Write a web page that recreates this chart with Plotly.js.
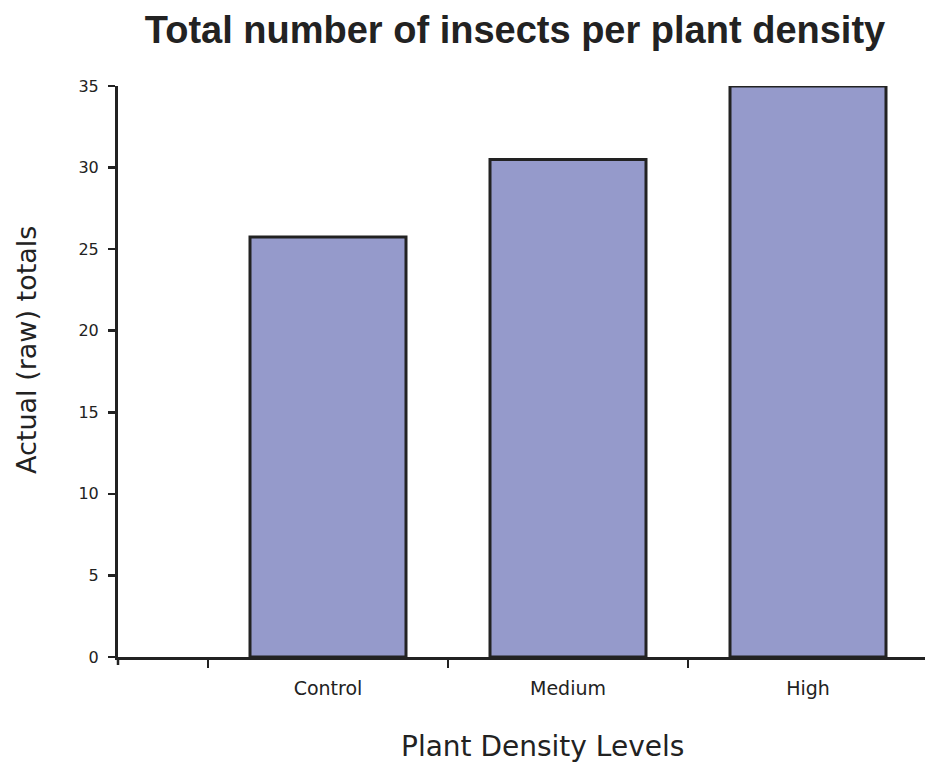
<!DOCTYPE html>
<html>
<head>
<meta charset="utf-8">
<script src="https://cdn.plot.ly/plotly-3.0.1.min.js"></script>
<style>html,body{margin:0;padding:0;background:#fff;}#chart{width:925px;height:767px;}</style>
</head>
<body>
<div id="chart"></div>
<script>
const categories = ["Control", "Medium", "High"];
const totals = [25.75, 30.5, 35];
const yTickValues = [0, 5, 10, 15, 20, 25, 30, 35];
const xTitle = "Plant Density Levels";
const yTitle = "Actual (raw) totals";

const ink = "#222222";
const trace = {
  type: "bar",
  x: categories,
  y: totals,
  width: 0.65,
  marker: { color: "#959acb", line: { color: ink, width: 3 } },
  hoverinfo: "x+y"
};

const layout = {
  width: 925,
  height: 767,
  margin: { l: 118, r: 0, t: 86, b: 110 },
  paper_bgcolor: "#ffffff",
  plot_bgcolor: "#ffffff",
  showlegend: false,
  font: { family: "DejaVu Sans, sans-serif", color: ink },
  title: {
    text: "<b>Total number of insects per plant density</b>",
    font: { family: "Liberation Sans, Arial, sans-serif", size: 38, color: ink },
    x: 515 / 925, xanchor: "center",
    y: 1 - 30 / 767, yanchor: "middle",
    xref: "container", yref: "container"
  },
  xaxis: {
    type: "category",
    range: [-0.875, 2.4875],
    showgrid: false, zeroline: false,
    showline: true, linecolor: ink, linewidth: 3,
    ticks: "outside", ticklen: 8, tickwidth: 2.5, tickcolor: ink,
    tickson: "boundaries",
    ticklabelstandoff: 12,
    tickfont: { size: 19, color: ink },
    fixedrange: true
  },
  yaxis: {
    range: [0, 35],
    tickvals: yTickValues,
    ticktext: yTickValues.map(String),
    showgrid: false, zeroline: false,
    showline: true, linecolor: ink, linewidth: 3,
    ticks: "outside", ticklen: 7, tickwidth: 2.5, tickcolor: ink,
    ticklabelstandoff: 6,
    tickfont: { size: 16, color: ink },
    fixedrange: true
  },
  annotations: [
    { text: xTitle, xref: "paper", yref: "paper",
      x: (542 - 118) / 807, y: (657 - 746) / 571,
      xanchor: "center", yanchor: "middle", showarrow: false,
      font: { size: 28, color: ink } },
    { text: yTitle, xref: "paper", yref: "paper", textangle: -90,
      x: (27 - 118) / 807, y: (657 - 350) / 571,
      xanchor: "center", yanchor: "middle", showarrow: false,
      font: { size: 27, color: ink } }
  ],
  shapes: [
    { type: "line", xref: "paper", yref: "paper", x0: 0, x1: 0, y0: 0, y1: -8 / 571,
      line: { color: ink, width: 2.5 } }
  ]
};

Plotly.newPlot("chart", [trace], layout, { displayModeBar: false, staticPlot: true });
</script>
</body>
</html>
